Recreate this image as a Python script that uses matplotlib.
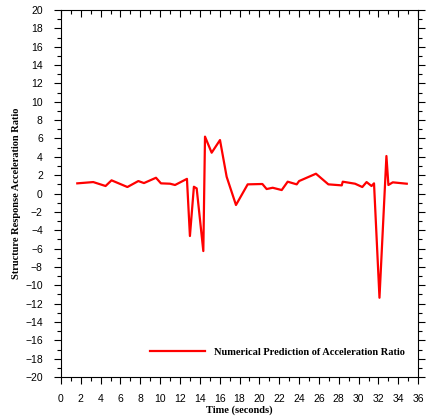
import matplotlib
matplotlib.use('Agg')
import matplotlib.pyplot as plt
from matplotlib.ticker import MultipleLocator

# values
time_s = [1.65, 3.26, 4.5, 5.1, 6.7, 7.8, 8.37, 9.58, 10.08, 11.0, 11.5, 12.7,
          13.0, 13.4, 13.68, 14.35, 14.52, 15.19, 16.03, 16.7, 17.64, 18.82,
          20.3, 20.73, 21.34, 22.25, 22.85, 23.76, 24.0, 25.7, 26.95, 28.3,
          28.4, 29.64, 30.37, 30.8, 31.3, 31.55, 32.1, 32.8, 33.0, 33.44, 34.85]
accel_ratio = [1.11, 1.25, 0.82, 1.44, 0.71, 1.36, 1.14, 1.72, 1.11, 1.07, 0.93, 1.6,
               -4.63, 0.74, 0.56, -6.27, 6.2, 4.45, 5.83, 1.83, -1.25, 1.0,
               1.04, 0.49, 0.63, 0.38, 1.29, 1.0, 1.36, 2.16, 1.0, 0.89,
               1.29, 1.07, 0.71, 1.25, 0.82, 1.11, -11.36, 4.09, 0.93, 1.22, 1.07]

fig = plt.figure(figsize=(4.32, 4.18), dpi=100)
ax = fig.add_axes([0.141, 0.098, 0.827, 0.878])

ax.plot(time_s, accel_ratio, color="#ff0000", linewidth=1.6,
        label="Numerical Prediction of Acceleration Ratio")

ax.set_xlim(0, 36)
ax.set_ylim(-20, 20)
ax.xaxis.set_major_locator(MultipleLocator(2))
ax.xaxis.set_minor_locator(MultipleLocator(1))
ax.yaxis.set_major_locator(MultipleLocator(2))
ax.yaxis.set_minor_locator(MultipleLocator(1))

tick_font = "Liberation Sans"
for lab in ax.get_xticklabels() + ax.get_yticklabels():
    lab.set_fontfamily(tick_font)
    lab.set_fontsize(7.5)

ax.tick_params(which="both", direction="out", right=True, top=True, width=0.8)
ax.tick_params(which="major", length=5)
ax.tick_params(which="minor", length=3)
ax.tick_params(axis="y", which="major", pad=8)
ax.tick_params(axis="x", which="major", pad=7)
# top ticks point inward
for t in ax.xaxis.get_major_ticks() + ax.xaxis.get_minor_ticks():
    t.tick2line.set_marker(3)

for s in ax.spines.values():
    s.set_linewidth(0.8)

ax.set_xlabel("Time (seconds)", fontfamily="Liberation Serif", fontweight="bold",
              fontsize=7.5, labelpad=1)
ax.set_ylabel("Structure Response Acceleration Ratio", fontfamily="Liberation Serif",
              fontweight="bold", fontsize=7.5, labelpad=3)

ax.legend(loc="lower right", bbox_to_anchor=(0.99, 0.03), frameon=False,
          handlelength=5.3, handletextpad=0.9,
          prop={"family": "Liberation Serif", "weight": "bold", "size": 7.5})

fig.savefig("out.png", dpi=100)
